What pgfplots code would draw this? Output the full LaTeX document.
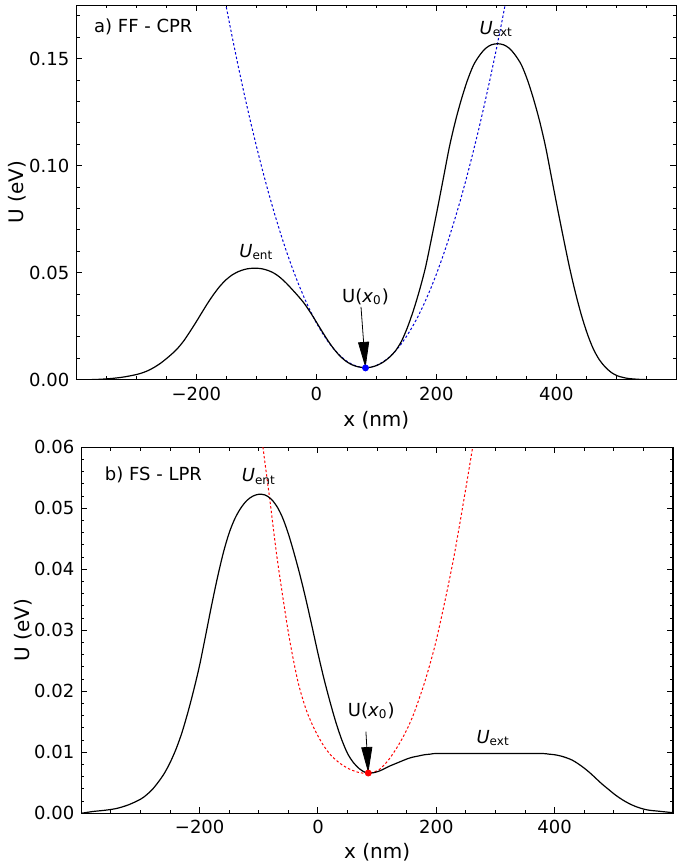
\documentclass[border=0pt]{standalone}
\usepackage{fontspec}
\setmainfont{DejaVu Sans}
\usepackage{pgfplots}
\pgfplotsset{compat=1.18}
\usetikzlibrary{arrows.meta}

\pgfplotstableread{
x y
-400 0.0000
-380 0.0000
-360 0.0002
-340 0.0006
-320 0.0013
-300 0.0024
-290 0.0032
-280 0.0043
-270 0.0058
-260 0.0076
-250 0.0098
-240 0.0122
-230 0.0150
-220 0.0185
-210 0.0227
-200 0.0271
-190 0.0317
-180 0.0362
-170 0.0403
-160 0.0439
-150 0.0468
-140 0.0490
-130 0.0505
-120 0.0515
-110 0.0520
-100 0.0521
-90 0.0518
-80 0.0510
-70 0.0497
-60 0.0477
-50 0.0451
-40 0.0421
-30 0.0390
-20 0.0356
-10 0.0315
0 0.0270
10 0.0224
20 0.0180
30 0.0141
40 0.0109
50 0.0085
60 0.0069
70 0.0060
82 0.0056
92 0.0059
102 0.0068
112 0.0083
122 0.0105
132 0.0135
142 0.0180
152 0.0245
162 0.0325
172 0.0418
182 0.0525
192 0.0660
202 0.0800
212 0.0945
222 0.1090
232 0.1210
242 0.1312
252 0.1400
262 0.1470
272 0.1515
282 0.1548
292 0.1565
302 0.1570
312 0.1565
322 0.1548
332 0.1515
342 0.1470
352 0.1400
362 0.1312
372 0.1210
382 0.1090
392 0.0945
402 0.0800
412 0.0660
422 0.0525
432 0.0405
442 0.0300
452 0.0212
462 0.0142
472 0.0092
482 0.0058
492 0.0033
502 0.0018
512 0.0010
522 0.0005
542 0.0001
560 0.0000
600 0.0000
}\topU

\pgfplotstableread{
x y
-160 0.1889
-150 0.1741
-140 0.1599
-130 0.1463
-120 0.1333
-110 0.1210
-100 0.1093
-90 0.0982
-80 0.0877
-70 0.0779
-60 0.0687
-50 0.0601
-40 0.0522
-30 0.0449
-20 0.0382
-10 0.0321
0 0.0266
10 0.0218
20 0.0176
30 0.0141
40 0.0111
50 0.0088
60 0.0071
70 0.0061
80 0.0056
90 0.0058
100 0.0066
110 0.0081
120 0.0101
130 0.0128
140 0.0161
150 0.0201
160 0.0246
170 0.0298
180 0.0357
190 0.0421
200 0.0492
210 0.0569
220 0.0652
230 0.0742
240 0.0837
250 0.0939
260 0.1048
270 0.1162
280 0.1283
290 0.1410
300 0.1543
310 0.1683
320 0.1829
}\topH

\pgfplotstableread{
x y
-400 0.0000
-380 0.0003
-360 0.0005
-340 0.0008
-320 0.0014
-300 0.0023
-290 0.0030
-280 0.0039
-270 0.0051
-260 0.0065
-250 0.0083
-240 0.0105
-230 0.0132
-220 0.0165
-210 0.0202
-200 0.0243
-190 0.0291
-180 0.0340
-170 0.0386
-160 0.0427
-150 0.0460
-140 0.0484
-130 0.0501
-120 0.0513
-110 0.0520
-100 0.0523
-90 0.0522
-80 0.0516
-70 0.0504
-60 0.0485
-50 0.0458
-40 0.0425
-30 0.0389
-20 0.0349
-10 0.0306
0 0.0262
10 0.0221
20 0.0184
30 0.0150
40 0.0121
50 0.0098
60 0.0083
70 0.0073
80 0.0067
90 0.0066
100 0.0068
110 0.0072
120 0.0077
130 0.0081
140 0.0085
150 0.0089
160 0.0092
170 0.0094
180 0.0096
190 0.0097
200 0.0098
250 0.0098
300 0.0098
350 0.0098
380 0.0098
390 0.0097
400 0.0096
410 0.0094
420 0.0091
430 0.0087
440 0.0081
450 0.0074
460 0.0066
470 0.0057
480 0.0048
490 0.0040
500 0.0032
510 0.0025
520 0.0019
530 0.0014
540 0.0010
550 0.0007
560 0.0005
570 0.0004
580 0.0003
590 0.0002
600 0.0001
}\botU

\pgfplotstableread{
x y
-105 0.0698
-93.5 0.0604
-81 0.0511
-70 0.0425
-58.7 0.0350
-47.5 0.0282
-33.4 0.0214
-19.3 0.0168
-5 0.0136
8.8 0.0112
22 0.0095
37 0.0082
50 0.0074
65 0.0068
75 0.0066
85 0.0066
95 0.0068
104 0.0072
118 0.0086
133 0.0107
147 0.0131
161 0.0161
180 0.0214
197.7 0.0275
215 0.0350
230 0.0422
245 0.0505
260 0.0592
272 0.0665
}\botH

\pgfplotsset{
  myaxis/.style={
    scale only axis,
    axis line style={line width=0.6pt},
    tick style={line width=0.5pt, black},
    major tick length=3pt, minor tick length=1.6pt,
    tick label style={font=\fontsize{9}{11}\selectfont},
    label style={font=\fontsize{9}{11}\selectfont},
    scaled y ticks=false, scaled x ticks=false,
    xmin=-400, xmax=600,
    xtick={-200,0,200,400}, xticklabels={−200,0,200,400},
    minor xtick={-350,-300,-250,-150,-100,-50,50,100,150,250,300,350,450,500,550},
    xlabel={x (nm)}, ylabel={U (eV)},
    every axis x label/.style={at={(axis description cs:0.5,-0.107)},anchor=center},
    every axis y label/.style={at={(axis description cs:-0.098,0.5)},anchor=center,rotate=90},
    clip=true,
  },
}

\begin{document}
\begin{tikzpicture}[x=1pt,y=1pt]
\useasboundingbox (0,0) rectangle (342.5,434);

\begin{axis}[myaxis,
  at={(38.15pt,244.15pt)}, anchor=south west,
  width=300pt, height=187.25pt,
  ymin=0, ymax=0.175,
  ytick={0,0.05,0.1,0.15}, yticklabels={0.00,0.05,0.10,0.15},
  minor ytick={0.01,0.02,0.03,0.04,0.06,0.07,0.08,0.09,0.11,0.12,0.13,0.14,0.16,0.17},
]
\addplot[blue!85!black, line width=0.5pt, dash pattern=on 1.2pt off 1.1pt] table[x=x,y=y] {\topH};
\addplot[black, line width=0.6pt, smooth] table[x=x,y=y] {\topU};
\addplot[only marks, mark=*, mark size=1.5pt, blue] coordinates {(82,0.0055)};
\draw[line width=0.4pt, -{Triangle[length=13pt,width=5.5pt]}] (axis cs:74.5,0.034) -- (axis cs:82,0.0055);
\node[font=\fontsize{9}{11}\selectfont] at (axis cs:82,0.0388) {U(\textit{x}\textsubscript{0})};
\node[font=\fontsize{9}{11}\selectfont] at (axis cs:-100,0.0595) {\textit{U}\textsubscript{ent}};
\node[font=\fontsize{9}{11}\selectfont] at (axis cs:300,0.164) {\textit{U}\textsubscript{ext}};
\node[font=\fontsize{9}{11}\selectfont, anchor=west] at (axis cs:-382,0.165) {a) FF - CPR};
\end{axis}

\begin{axis}[myaxis,
  at={(40.65pt,27.35pt)}, anchor=south west,
  width=295.85pt, height=183pt,
  ymin=0, ymax=0.06,
  ytick={0,0.01,0.02,0.03,0.04,0.05,0.06}, yticklabels={0.00,0.01,0.02,0.03,0.04,0.05,0.06},
  minor ytick={0.002,0.004,0.006,0.008,0.012,0.014,0.016,0.018,0.022,0.024,0.026,0.028,0.032,0.034,0.036,0.038,0.042,0.044,0.046,0.048,0.052,0.054,0.056,0.058},
]
\addplot[red, line width=0.5pt, dash pattern=on 1.2pt off 1.1pt, smooth] table[x=x,y=y] {\botH};
\addplot[black, line width=0.6pt, smooth] table[x=x,y=y] {\botU};
\addplot[only marks, mark=*, mark size=1.5pt, red] coordinates {(85,0.0066)};
\draw[line width=0.4pt, -{Triangle[length=13pt,width=5.5pt]}] (axis cs:81,0.0134) -- (axis cs:85,0.0066);
\node[font=\fontsize{9}{11}\selectfont] at (axis cs:90,0.0168) {U(\textit{x}\textsubscript{0})};
\node[font=\fontsize{9}{11}\selectfont] at (axis cs:-100,0.0552) {\textit{U}\textsubscript{ent}};
\node[font=\fontsize{9}{11}\selectfont] at (axis cs:296,0.0123) {\textit{U}\textsubscript{ext}};
\node[font=\fontsize{9}{11}\selectfont, anchor=west] at (axis cs:-372,0.0555) {b) FS - LPR};
\end{axis}
\end{tikzpicture}
\end{document}
